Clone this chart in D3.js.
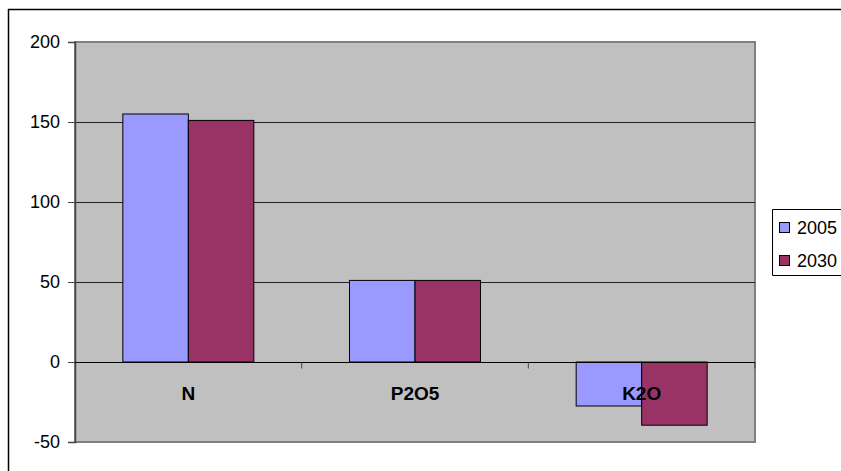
<!DOCTYPE html>
<html>
<head>
<meta charset="utf-8">
<script src="https://cdn.jsdelivr.net/npm/d3@7.9.0/dist/d3.min.js"></script>
<style>
  html, body { margin: 0; background: #fff; overflow: hidden; }
  svg { display: block; font-family: Arial, "Liberation Sans", sans-serif; }
</style>
</head>
<body>
<div id="chart"></div>
<script>
const categories = ['N', 'P2O5', 'K2O'];
const seriesNames = ['2005', '2030'];
const values2005 = [155, 51, -27.5];
const values2030 = [151, 51, -39.5];
const yTicks = [-50, 0, 50, 100, 150, 200];
const colors = ['#9999FF', '#993366'];

const width = 841, height = 471;
const plot = { left: 75, top: 42, right: 755, bottom: 442 };

const svg = d3.select('#chart')
  .append('svg')
  .attr('width', width)
  .attr('height', height);

// outer chart frame: only the top and left edges fall inside the picture
svg.append('line')
  .attr('x1', 8.5).attr('x2', 8.5).attr('y1', 9).attr('y2', height)
  .attr('stroke', '#000').attr('stroke-width', 1.5);
svg.append('line')
  .attr('x1', 8).attr('x2', width).attr('y1', 9.5).attr('y2', 9.5)
  .attr('stroke', '#000').attr('stroke-width', 1.5);

const y = d3.scaleLinear().domain([-50, 200]).range([plot.bottom, plot.top]);
const x0 = d3.scaleBand().domain(categories).range([plot.left, plot.right]);
const x1 = d3.scaleBand().domain(seriesNames).range([0, 131]);

// plot area
svg.append('rect')
  .attr('x', plot.left).attr('y', plot.top)
  .attr('width', plot.right - plot.left).attr('height', plot.bottom - plot.top)
  .attr('fill', '#C0C0C0').attr('stroke', '#808080').attr('stroke-width', 2);

// gridlines
svg.append('g')
  .selectAll('line')
  .data(yTicks.filter(d => d > -50 && d < 200))
  .enter()
  .append('line')
  .attr('x1', plot.left).attr('x2', plot.right)
  .attr('y1', d => Math.round(y(d)) + 0.5).attr('y2', d => Math.round(y(d)) + 0.5)
  .attr('stroke', '#222').attr('stroke-width', 1);

// bars
const rows = categories.map((c, i) => ({ cat: c, vals: [values2005[i], values2030[i]] }));
const groups = svg.append('g')
  .selectAll('g')
  .data(rows)
  .enter()
  .append('g')
  .attr('transform', d => `translate(${x0(d.cat) + (x0.bandwidth() - 131) / 2},0)`);

groups.selectAll('rect')
  .data(d => d.vals.map((v, j) => ({ v, s: seriesNames[j], j })))
  .enter()
  .append('rect')
  .attr('x', d => x1(d.s))
  .attr('y', d => y(Math.max(0, d.v)))
  .attr('width', x1.bandwidth())
  .attr('height', d => Math.abs(y(d.v) - y(0)))
  .attr('fill', d => colors[d.j])
  .attr('stroke', '#000').attr('stroke-width', 1);

// y axis
const yAxis = svg.append('g')
  .attr('transform', `translate(${plot.left},0)`)
  .call(d3.axisLeft(y).tickValues(yTicks).tickFormat(d => String(d)).tickSize(7).tickPadding(8));
yAxis.select('.domain').attr('stroke', '#444').attr('stroke-width', 1.5);
yAxis.selectAll('.tick line').attr('stroke', '#444');
yAxis.selectAll('text').attr('font-size', 18).attr('fill', '#000')
  .attr('font-family', 'Arial, "Liberation Sans", sans-serif');

// category axis along the zero line
const xAxis = svg.append('g')
  .attr('transform', `translate(0,${Math.round(y(0)) + 0.5})`);
xAxis.append('line')
  .attr('x1', plot.left).attr('x2', plot.right)
  .attr('stroke', '#000');
xAxis.selectAll('.tk')
  .data(categories.slice(1).concat(['end']))
  .enter()
  .append('line')
  .attr('x1', d => d === 'end' ? plot.right : x0(d))
  .attr('x2', d => d === 'end' ? plot.right : x0(d))
  .attr('y1', 0).attr('y2', 6)
  .attr('stroke', '#444');
svg.append('g')
  .selectAll('text')
  .data(categories)
  .enter()
  .append('text')
  .attr('x', d => x0(d) + x0.bandwidth() / 2)
  .attr('y', 400)
  .attr('text-anchor', 'middle')
  .attr('font-size', 19)
  .attr('font-weight', 'bold')
  .text(d => d);

// legend (its right edge runs off the picture)
const legend = svg.append('g').attr('transform', 'translate(772,209)');
legend.append('path')
  .attr('d', 'M90,0.5H0.5V66.5H90')
  .attr('fill', '#fff').attr('stroke', '#000');
seriesNames.forEach((s, i) => {
  legend.append('rect')
    .attr('x', 7.5).attr('y', 13.5 + i * 33).attr('width', 10).attr('height', 10)
    .attr('fill', colors[i]).attr('stroke', '#000');
  legend.append('text')
    .attr('x', 25).attr('y', 25 + i * 33)
    .attr('font-size', 18)
    .text(s);
});
</script>
</body>
</html>
